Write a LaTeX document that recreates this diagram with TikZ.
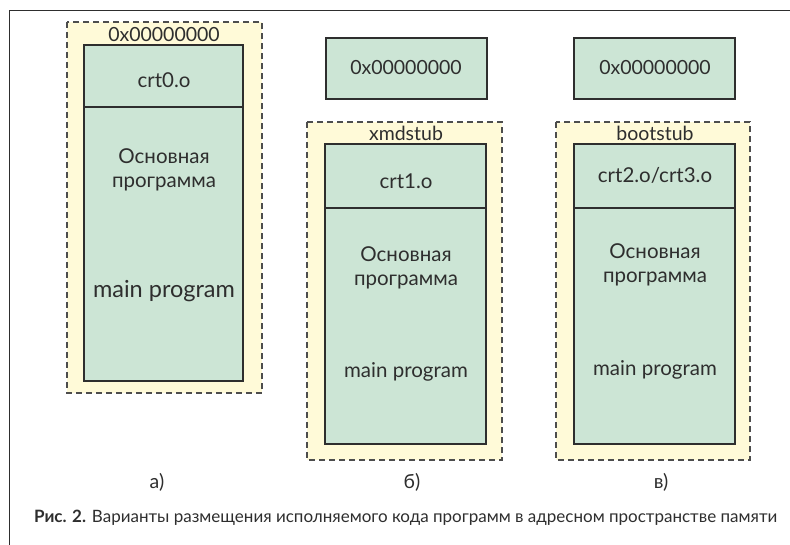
\documentclass[tikz,border=0pt]{standalone}
\usepackage{fontspec}
\setmainfont{Lato}
\definecolor{memgreen}{HTML}{CCE5D5}
\definecolor{stubyellow}{HTML}{FFFAD8}
\definecolor{ink}{HTML}{2E2E2E}
\tikzset{
  stub/.style={draw=ink!85, fill=stubyellow, line width=1.1pt, dash pattern=on 6pt off 4pt},
  mem/.style={draw=ink, fill=memgreen, line width=2pt},
  txt/.style={text=ink, font=\fontsize{20.5}{24}\selectfont, inner sep=0pt, anchor=center, align=center},
  lbl/.style={text=ink, font=\fontsize{19.5}{22}\selectfont, inner sep=0pt, anchor=center},
}
\begin{document}
\begin{tikzpicture}[x=1pt,y=-1pt]
\useasboundingbox (0,0) rectangle (790,544);
\fill[white] (0,0) rectangle (790,544);
% outer frame (top and left edges visible)
\draw[ink, line width=0.9pt] (9,600) -- (9,10) -- (800,10);

% panel a
\draw[stub] (67,22) rectangle (262,393);
\node[lbl] (aaddr) at (164,35) {0x00000000};
\draw[mem] (84,45) rectangle (243,381);
\draw[ink, line width=2pt] (84,107) -- (243,107);
\node[txt] (acrt) at (164,80) {crt0.o};
\node[txt] (aru) at (164,170) {Основная\\программа};
\node[txt, font=\fontsize{23.5}{26}\selectfont] (aen) at (164,291) {main program};
\node[lbl] (alab) at (157,482) {а)};

% panel b
\draw[mem] (326,38) rectangle (487,99);
\node[lbl] (baddr) at (406,68) {0x00000000};
\draw[stub] (307,122) rectangle (502,460);
\node[lbl] (bstub) at (406,133) {xmdstub};
\draw[mem] (325,144) rectangle (486,444);
\draw[ink, line width=2pt] (325,208) -- (486,208);
\node[txt] (bcrt) at (406,181) {crt1.o};
\node[txt] (bru) at (406,268) {Основная\\программа};
\node[txt] (ben) at (406,372) {main program};
\node[lbl] (blab) at (412,482) {б)};

% panel c
\draw[mem] (574,38) rectangle (735,99);
\node[lbl] (caddr) at (655,68) {0x00000000};
\draw[stub] (556,122) rectangle (750,460);
\node[lbl] (cstub) at (655,133) {bootstub};
\draw[mem] (574,144) rectangle (735,444);
\draw[ink, line width=2pt] (574,208) -- (735,208);
\node[txt] (ccrt) at (655,175) {crt2.o/crt3.o};
\node[txt] (cru) at (655,265) {Основная\\программа};
\node[txt] (cen) at (655,370) {main program};
\node[lbl] (clab) at (661,482) {в)};

% caption
\node[text=ink, anchor=west, inner sep=0pt, font=\fontsize{17}{20}\selectfont] (cap) at (34,518)
  {\textbf{Рис. 2.} Варианты размещения исполняемого кода программ в адресном пространстве памяти};
\end{tikzpicture}
\end{document}
